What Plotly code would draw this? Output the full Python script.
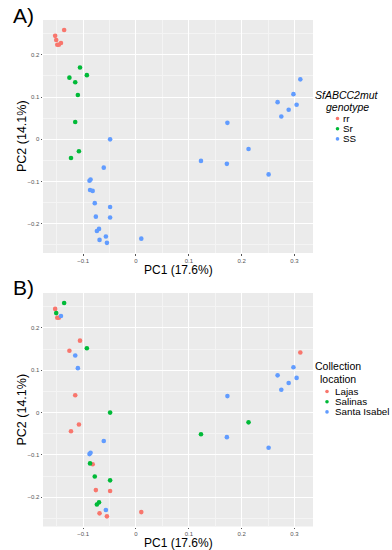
import plotly.graph_objects as go

# ---- data ----
pc1 = [-0.136, -0.153, -0.151, -0.149, -0.146, -0.142,
       -0.106, -0.093, -0.126, -0.115, -0.110, -0.115, -0.108, -0.123,
       -0.049, -0.061, -0.088, -0.086, -0.087, -0.082, -0.078, -0.049,
       -0.076, -0.049, -0.070, -0.074, -0.057, -0.069, -0.055, 0.010,
       0.311, 0.298, 0.268, 0.304, 0.289, 0.275, 0.173, 0.213, 0.172, 0.251, 0.123]
pc2 = [0.259, 0.245, 0.235, 0.224, 0.224, 0.228,
       0.170, 0.152, 0.146, 0.135, 0.105, 0.041, -0.028, -0.044,
       0.000, -0.067, -0.098, -0.095, -0.120, -0.122, -0.151, -0.160,
       -0.183, -0.185, -0.212, -0.217, -0.230, -0.238, -0.245, -0.235,
       0.142, 0.107, 0.088, 0.082, 0.070, 0.054, 0.039, -0.023, -0.058, -0.083, -0.051]
genotype = ["rr"] * 6 + ["Sr"] * 8 + ["SS"] * 27
location = ["Salinas", "Lajas", "Salinas", "Lajas", "Lajas", "Santa Isabel",
            "Lajas", "Salinas", "Lajas", "Santa Isabel", "Santa Isabel", "Lajas", "Lajas", "Lajas",
            "Salinas", "Santa Isabel", "Santa Isabel", "Santa Isabel", "Salinas", "Lajas", "Salinas", "Salinas",
            "Lajas", "Lajas", "Salinas", "Salinas", "Santa Isabel", "Lajas", "Lajas", "Lajas",
            "Lajas", "Santa Isabel", "Santa Isabel", "Santa Isabel", "Santa Isabel", "Santa Isabel",
            "Santa Isabel", "Salinas", "Santa Isabel", "Santa Isabel", "Salinas"]
genotype_levels = ["rr", "Sr", "SS"]
location_levels = ["Lajas", "Salinas", "Santa Isabel"]
x_title = "PC1 (17.6%)"
y_title = "PC2 (14.1%)"

palette = ["#F8766D", "#00BA38", "#619CFF"]
W, H = 392, 550
FONT = "Liberation Sans, Arial, sans-serif"

fig = go.Figure()

def add_group(levels, groups, xa, ya):
    for lev, col in zip(levels, palette):
        xs = [x for x, g in zip(pc1, groups) if g == lev]
        ys = [y for y, g in zip(pc2, groups) if g == lev]
        fig.add_trace(go.Scatter(x=xs, y=ys, mode="markers", xaxis=xa, yaxis=ya,
                                 marker=dict(color=col, size=4.6, line=dict(width=0)),
                                 showlegend=False, name=lev))

add_group(genotype_levels, genotype, "x", "y")
add_group(location_levels, location, "x2", "y2")

def px(x):
    return x / W

def py(y):
    return 1 - y / H

xdom = [px(43), px(313)]
axis_common = dict(showgrid=True, gridcolor="white", gridwidth=1, zeroline=False,
                   showline=False, ticks="outside", ticklen=1.5, tickcolor="#555555",
                   tickfont=dict(size=6, color="#555555", family=FONT),
                   minor=dict(showgrid=True, gridcolor="#F4F4F4", gridwidth=0.5))
xr = [-0.176, 0.335]
yr = [-0.269, 0.2825]
fig.update_layout(
    xaxis=dict(domain=xdom, range=xr, dtick=0.1, tick0=0, anchor="y",
               minor_dtick=0.05, **axis_common),
    yaxis=dict(domain=[py(253), py(20)], range=yr, dtick=0.1, tick0=0, anchor="x",
               minor_dtick=0.05, **axis_common),
    xaxis2=dict(domain=xdom, range=xr, dtick=0.1, tick0=0, anchor="y2",
                minor_dtick=0.05, **axis_common),
    yaxis2=dict(domain=[py(526.5), py(293)], range=yr, dtick=0.1, tick0=0, anchor="x2",
                minor_dtick=0.05, **axis_common),
    plot_bgcolor="#EBEBEB", paper_bgcolor="white",
    width=W, height=H, margin=dict(l=0, r=0, t=0, b=0),
    showlegend=False, font=dict(family=FONT),
)

ann = []
shapes = []
# axis titles
for yc in (269.5, 542.5):
    ann.append(dict(text=x_title, x=px(178), y=py(yc), xref="paper", yref="paper",
                    showarrow=False, font=dict(size=12, color="black"),
                    xanchor="center", yanchor="middle"))
for yc in (136.5, 410):
    ann.append(dict(text=y_title, x=px(21.5), y=py(yc), xref="paper", yref="paper",
                    showarrow=False, font=dict(size=12.5, color="black"), textangle=-90,
                    xanchor="center", yanchor="middle"))
# panel labels
for lab, yc in (("A)", 15.5), ("B)", 287.5)):
    ann.append(dict(text=lab, x=px(11), y=py(yc), xref="paper", yref="paper",
                    showarrow=False, font=dict(size=21, color="black"),
                    xanchor="left", yanchor="middle"))

# custom legends
def legend(title_lines, title_cx, title_y0, levels, mx, y0, tx, italic):
    for i, line in enumerate(title_lines):
        t = f"<i>{line}</i>" if italic else line
        ann.append(dict(text=t, x=px(title_cx), y=py(title_y0 + i * 12.5), xref="paper",
                        yref="paper", showarrow=False, font=dict(size=10.5, color="black"),
                        xanchor="center", yanchor="middle"))
    for i, (lev, col) in enumerate(zip(levels, palette)):
        yc = y0 + i * 10.2
        r = 1.8
        shapes.append(dict(type="circle", xref="paper", yref="paper",
                           x0=px(mx - r), x1=px(mx + r), y0=py(yc + r), y1=py(yc - r),
                           fillcolor=col, line=dict(width=0)))
        ann.append(dict(text=lev, x=px(tx), y=py(yc), xref="paper", yref="paper",
                        showarrow=False, font=dict(size=9.8, color="black"),
                        xanchor="left", yanchor="middle"))

legend(["SfABCC2mut", "genotype"], 347, 95, genotype_levels, 337.5, 118.5, 340.5, True)
legend(["Collection", "location"], 338, 366, location_levels, 327, 391.5, 332.5, False)

fig.update_layout(annotations=ann, shapes=shapes)
fig.write_html("out.html", config={"displayModeBar": False},
               post_script="document.body.style.margin='0';document.body.style.overflow='hidden';")
